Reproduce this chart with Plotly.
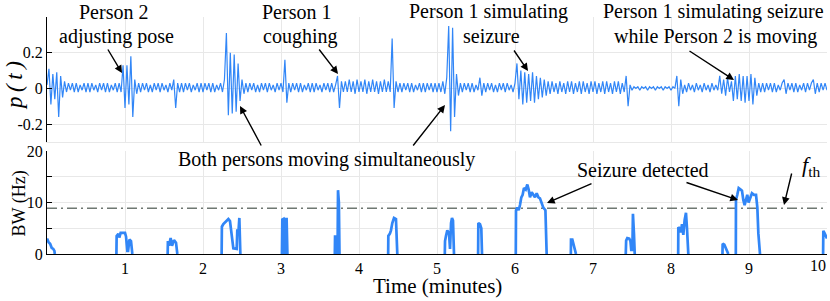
import plotly.graph_objects as go

# ---------------- data ----------------
# p(t) signal, sampled every 0.025 min, values in units of 0.01
p_step_min = 0.025
p_centi = [
    # minute 0
    2, 11, -9, 8, -6, 9, -16, 7, -5, 4, -2, 3, -1, 3, -2, 3, -2, 2, -1, 3,
    -2, 3, -2, 3, -1, 2, -2, 3, -1, 3, -2, 3, -2, 2, -1, 3, -2, 3, -2, 13,
    # minute 1
    -11, 13, -9, 18, -16, 5, -3, 3, -2, 3, -1, 3, -2, 2, -2, 3, -1, 3, -2, 3,
    -1, 2, -2, 3, -1, 5, -11, 3, -2, 3, -2, 3, -1, 3, -2, 2, -1, 3, -2, 3,
    # minute 2
    -2, 3, -1, 3, -2, 3, -2, 2, -1, 3, -2, 5, 31, -15, 20, -14, 19, -13, 14, -7,
    5, -3, 3, -2, 3, -1, 3, -2, 2, -2, 3, -1, 3, -2, 3, -1, 2, -2, 3, -1,
    # minute 3
    3, -2, 16, -8, 3, -2, 3, -1, 3, -2, 3, -2, 2, -1, 3, -2, 3, -2, 3, -1,
    2, -2, 3, -1, 3, -2, 3, -2, 2, 7, -11, 4, -2, 4, -2, 5, -2, 4, -3, 5,
    # minute 4
    -2, 4, -2, 5, -3, 4, -2, 5, -2, 4, -3, 4, -2, 5, -2, 4, -2, 28, -11, 4,
    -2, 3, -2, 3, -1, 3, -2, 3, -2, 2, -1, 3, -2, 3, -2, 3, -1, 3, -2, 3,
    # minute 5
    -2, 3, -2, 4, -3, 6, 35, -24, 34, -16, 8, -4, 3, -2, 3, -1, 3, -2, 3, -2,
    2, -1, 6, -4, 3, -2, 3, -1, 3, -2, 2, -2, 3, -1, 3, -2, 3, -1, 2, -2,
    # minute 6
    3, 14, -6, 10, -9, 9, -8, 8, -7, 9, -8, 7, -6, 6, -5, 5, -4, 4, -3, 4,
    -2, 3, -3, 4, -2, 3, -3, 4, -2, 4, -3, 3, -2, 4, -3, 4, -2, 3, -3, 4,
    # minute 7
    -2, 4, -3, 3, -2, 4, -3, 4, -2, 3, -3, 4, -2, 4, -3, 3, -2, 7, -10, 2,
    -1, 1, 0, 1, -1, 1, 0, 1, -1, 1, 0, 1, -1, 1, 0, 1, -1, 1, 0, 1,
    # minute 8
    -1, 1, 0, 7, -10, 5, -3, 2, -2, 3, -1, 2, -2, 3, -1, 2, -2, 3, -1, 2,
    -2, 3, -1, 2, -1, 7, -3, 5, -4, 6, -2, 4, -7, 7, -6, 8, -7, 7, -8, 7,
    # minute 9
    -7, 8, -9, 6, -4, 3, -2, 3, -2, 3, -1, 3, -2, 3, -2, 2, -1, 3, 5, -3,
    3, -1, 3, -2, 3, -2, 2, -1, 3, -2, 3, -1, 3, 5, -3, 3, -2, 3, -1, 3,
    -1,
]

# Bandwidth estimate (Hz); None separates detected segments
bw_time = [
    0, 0.02, 0.04, 0.06, 0.08, 0.095, 0.1, None,
    0.89, 0.893, 0.915, 0.927, 0.944, 1.0, 1.013, 1.03, 1.04, 1.056, 1.077, 1.088, 1.094, None,
    1.547, 1.55, 1.564, 1.585, 1.603, 1.628, 1.654, 1.665, 1.671, None,
    2.239, 2.242, 2.261, 2.295, 2.325, 2.346, 2.368, 2.389, 2.432, 2.44, 2.453, 2.466, 2.479, None,
    3.012, 3.017, 3.03, 3.037, 3.055, 3.06, 3.072, 3.082, None,
    3.69, 3.693, 3.712, 3.718, 3.725, 3.731, 3.742, 3.75, None,
    4.374, 4.376, 4.397, 4.41, 4.427, 4.449, 4.474, 4.483, 4.491, None,
    5.1, 5.103, 5.115, 5.132, 5.154, 5.167, 5.18, 5.192, 5.205, 5.218, None,
    5.527, 5.53, 5.551, 5.568, 5.577, None,
    6.01, 6.013, 6.03, 6.047, 6.064, 6.081, 6.098, 6.115, 6.137, 6.158, 6.175,
    6.192, 6.214, 6.235, 6.256, 6.278, 6.3, 6.32, 6.34, 6.363, 6.39, 6.406, None,
    6.716, 6.718, 6.735, 6.752, 6.769, 6.782, None,
    7.42, 7.425, 7.44, 7.465, 7.48, 7.49, 7.505, 7.512, 7.525, 7.535, None,
    8.092, 8.094, 8.107, 8.124, 8.141, 8.158, 8.175, 8.192, 8.205, 8.222, None,
    8.66, 8.662, 8.684, 8.705, 8.722, 8.735, None,
    8.831, 8.833, 8.85, 8.868, 8.893, 8.91, 8.927, 8.944, 8.961, 8.978, 8.995,
    9.012, 9.038, 9.064, 9.09, 9.107, 9.12, 9.141, None,
    9.95, 9.953, 9.97, 9.99, 10.0,
]
bw_hz = [
    3.0, 2.3, 2.0, 1.2, 1.0, 0.6, 0, None,
    0, 3.5, 3.9, 3.2, 4.1, 4.1, 3.4, 0.6, 0.6, 2.8, 2.5, 1.0, 0, None,
    0, 2.5, 1.6, 3.1, 1.6, 2.7, 2.2, 1.0, 0, None,
    0, 5.3, 5.8, 6.3, 6.8, 6.4, 3.0, 1.1, 1.0, 4.8, 3.9, 7.0, 0, None,
    0, 6.7, 6.8, 0, 0, 6.8, 6.8, 0, None,
    0, 3.4, 3.4, 0, 0, 12.4, 10.0, 0, None,
    0, 3.5, 4.0, 4.6, 6.0, 7.0, 6.8, 3.0, 0, None,
    0, 2.5, 3.5, 4.6, 4.0, 1.0, 6.0, 7.0, 6.5, 0, None,
    0, 6.0, 5.8, 5.0, 0, None,
    0, 8.5, 9.0, 8.5, 9.5, 11.0, 11.5, 12.8, 12.5, 13.5, 12.5,
    11.0, 12.0, 11.5, 11.0, 11.8, 11.0, 10.8, 10.0, 9.0, 8.5, 0, None,
    0, 2.8, 2.8, 1.8, 1.2, 0, None,
    0, 2.6, 3.1, 3.0, 2.5, 0.8, 0.8, 7.8, 4.0, 0, None,
    0, 5.2, 5.0, 4.2, 5.8, 3.7, 6.6, 8.0, 5.0, 0, None,
    0, 2.0, 1.8, 1.0, 0.5, 0, None,
    0, 10.5, 11.5, 12.8, 12.5, 12.3, 10.5, 9.5, 10.5, 11.5, 10.0,
    10.8, 11.8, 11.5, 11.5, 9.0, 4.0, 0, None,
    0, 4.5, 4.0, 3.0, 3.0,
]

f_th = 8.9                      # threshold (Hz)
time_range = [0, 10]
x_ticks = [1, 2, 3, 4, 5, 6, 7, 8, 9, 10]
x_ticklabels = ["1", "2", "3", "4", "5", "6", "7", "8", "9", ""]
last_tick_label = "10"          # drawn separately so it stays inside the window
p_ticks = [-0.2, 0, 0.2, 0.4]
p_ticklabels = ["-0.2", "0", "0.2", ""]
bw_ticks = [0, 5, 10, 15, 20]
bw_ticklabels = ["0", "", "10", "", "20"]

p_time = [i * p_step_min for i in range(len(p_centi))]
p_vals = [v / 100 for v in p_centi]

# ---------------- layout helpers (pixel -> paper) ----------------
W, H = 830, 301
L, R, T, B = 47, 3, 0, 47
PW, PH = W - L - R, H - T - B


def px(x):
    return (x - L) / PW


def py(y):
    return (H - B - y) / PH


BLUE = "#3186F7"
GRID = "#e8e8e8"
FONT = "Liberation Serif, Tinos, 'Times New Roman', Times, serif"

fig = go.Figure()
fig.add_trace(go.Scatter(x=p_time, y=p_vals, mode="lines",
                         line=dict(color=BLUE, width=1.2),
                         xaxis="x", yaxis="y", hoverinfo="skip"))
fig.add_trace(go.Scatter(x=time_range, y=[f_th, f_th], mode="lines",
                         line=dict(color="#6f7872", width=1.5, dash="10px,4px,2px,4px"),
                         xaxis="x2", yaxis="y2", hoverinfo="skip"))
fig.add_trace(go.Scatter(x=bw_time, y=bw_hz, mode="lines", connectgaps=False,
                         line=dict(color=BLUE, width=2.7),
                         xaxis="x2", yaxis="y2", hoverinfo="skip"))

axis_common = dict(range=time_range, tickvals=x_ticks, showgrid=True, gridcolor=GRID,
                   gridwidth=1, zeroline=False, ticks="", automargin=False)
fig.update_layout(
    width=W, height=H,
    margin=dict(l=L, r=R, t=T, b=B, autoexpand=False),
    paper_bgcolor="white", plot_bgcolor="white",
    showlegend=False,
    font=dict(family=FONT, size=16, color="black"),
    xaxis=dict(**axis_common, anchor="y", showticklabels=False,
               showline=True, linecolor=GRID, linewidth=1),
    yaxis=dict(domain=[py(142), py(17)], range=[-0.3, 0.4], tickvals=p_ticks,
               ticktext=p_ticklabels, showgrid=True, gridcolor=GRID, zeroline=False,
               showline=True, linecolor="black", linewidth=1, ticks="inside",
               ticklen=5, tickcolor="black", tickfont=dict(size=16), anchor="x",
               automargin=False),
    xaxis2=dict(**axis_common, anchor="y2", showticklabels=True, ticktext=x_ticklabels,
                tickfont=dict(size=16), showline=True, linecolor="black", linewidth=1),
    yaxis2=dict(domain=[0, py(151)], range=[0, 20], tickvals=bw_ticks,
                ticktext=bw_ticklabels, showgrid=True, gridcolor=GRID, zeroline=False,
                showline=True, linecolor="black", linewidth=1, ticks="inside",
                ticklen=5, tickcolor="black", tickfont=dict(size=16), anchor="x2",
                automargin=False),
)

ann = []


def text(x, y, s, size=20, angle=0):
    ann.append(dict(x=px(x), y=py(y), xref="paper", yref="paper", text=s,
                    showarrow=False, xanchor="center", yanchor="middle",
                    textangle=angle, font=dict(family=FONT, size=size, color="black")))


def arrow(hx, hy, tx, ty):
    ann.append(dict(x=px(hx), y=py(hy), xref="paper", yref="paper", text="",
                    showarrow=True, ax=tx - hx, ay=ty - hy, axref="pixel", ayref="pixel",
                    arrowhead=2, arrowsize=1.1, arrowwidth=1.4, arrowcolor="black",
                    standoff=0))


text(113, 11.5, "Person 2")
text(116.5, 36.5, "adjusting pose")
text(296, 11.5, "Person 1")
text(300, 36.5, "coughing")
text(488, 11.5, "Person 1 simulating")
text(491, 36.5, "seizure")
text(713, 11.5, "Person 1 simulating seizure")
text(715, 36.5, "while Person 2 is moving")
text(326, 159, "Both persons moving simultaneously")
text(642.5, 170, "Seizure detected")
text(811, 166, "<i>f</i><sub>th</sub>", size=22)
text(15, 86, "<i>p\u2009(\u2009t\u2009)</i>", size=23, angle=-90)
text(18.5, 204, "BW (Hz)", size=18, angle=-90)
text(437.5, 286, "Time (minutes)", size=21)
ann.append(dict(x=1.0, y=py(265.5), xref="paper", yref="paper", text=last_tick_label,
                showarrow=False, xanchor="right", yanchor="middle", xshift=1,
                font=dict(family=FONT, size=16, color="black")))

arrow(122, 73, 107, 48)
arrow(338, 74, 318, 48)
arrow(528, 71, 513, 49)
arrow(734, 80, 688, 50)
arrow(240, 106, 262, 147)
arrow(445, 105, 412, 147)
arrow(547, 203, 593, 183)
arrow(738, 200, 685, 182)
arrow(784, 205, 792, 172)

fig.update_layout(annotations=ann)
fig.write_html("out.html", config={"displayModeBar": False},
               post_script="document.body.style.margin='0';document.body.style.overflow='hidden';")
